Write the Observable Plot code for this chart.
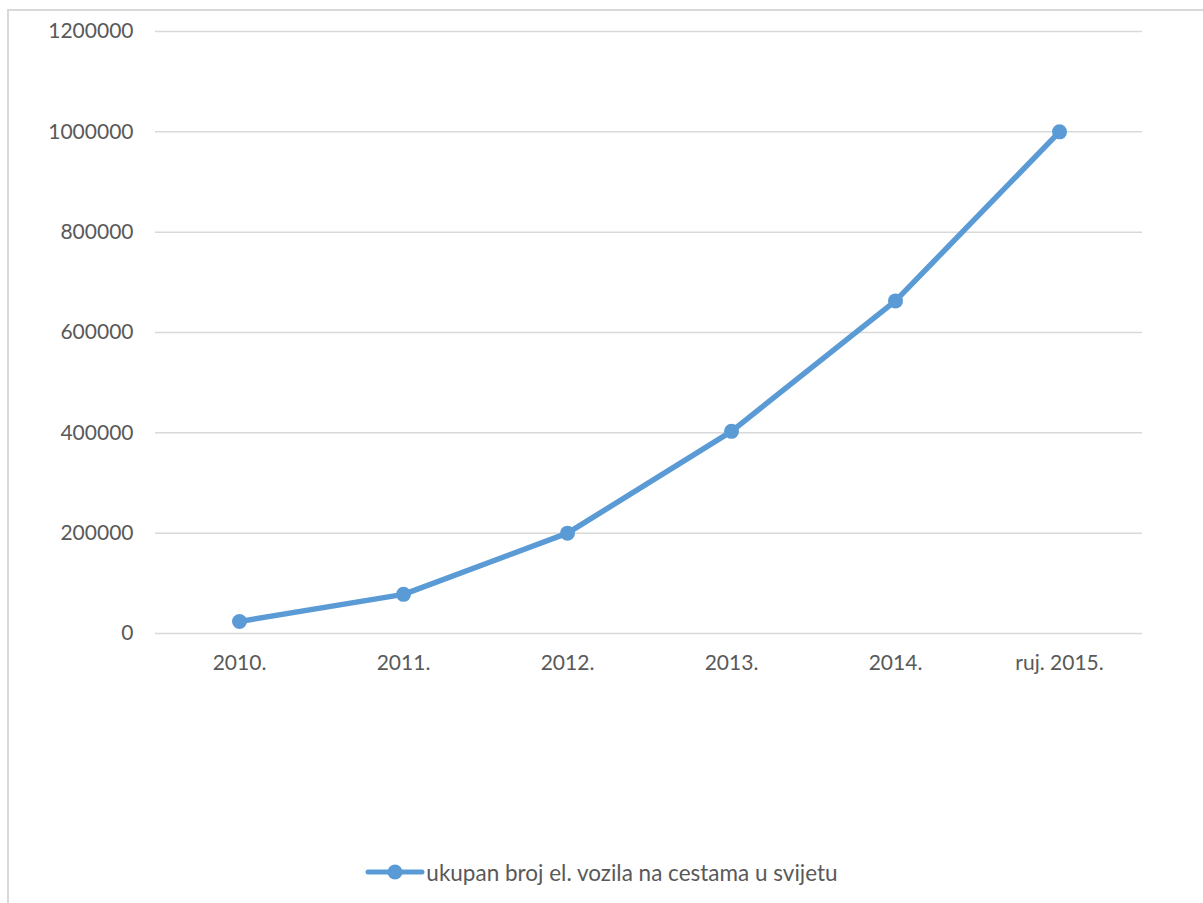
<!DOCTYPE html>
<html>
<head>
<meta charset="utf-8">
<script src="https://cdn.jsdelivr.net/npm/d3@7"></script>
<script src="https://cdn.jsdelivr.net/npm/@observablehq/plot@0.6"></script>
<style>
  html, body { margin: 0; padding: 0; background: #fff; }
  #wrap { position: relative; width: 1203px; height: 903px; overflow: hidden; font-family: Lato, "Open Sans", sans-serif; }
  #frame { position: absolute; left: 7px; top: 9px; width: 1200px; height: 900px; border-top: 2px solid #d9d9d9; border-left: 2px solid #d9d9d9; box-sizing: border-box; pointer-events: none; }
  #chart { position: absolute; left: 0; top: 0; }
  #legend { position: absolute; left: 0; top: 855px; width: 1203px; height: 34px; display: flex; justify-content: center; align-items: center; color: #595959; font-size: 22.5px; }
  #legend .lbl { margin-left: 1px; }
</style>
</head>
<body>
<div id="wrap">
  <div id="chart"></div>
  <div id="frame"></div>
  <div id="legend"></div>
</div>
<script>
const categories = ["2010.", "2011.", "2012.", "2013.", "2014.", "ruj. 2015."];
const values = [24000, 78000, 200000, 403000, 663000, 1000000];
const yTicks = [0, 200000, 400000, 600000, 800000, 1000000, 1200000];
const seriesName = "ukupan broj el. vozila na cestama u svijetu";
const color = "#5b9bd5";

const data = categories.map((c, i) => ({cat: c, value: values[i]}));

const chart = Plot.plot({
  width: 1203,
  height: 845,
  marginLeft: 155,
  marginRight: 61,
  marginTop: 31,
  marginBottom: 212,
  style: { fontFamily: "Lato, 'Open Sans', sans-serif", fontSize: "21px", color: "#595959", background: "transparent" },
  x: { type: "point", domain: categories, padding: 0.5, label: null },
  y: { domain: [0, 1200000], label: null },
  marks: [
    Plot.ruleY(yTicks, { stroke: "#d9d9d9", strokeWidth: 1.5 }),
    Plot.axisY({ ticks: yTicks, tickSize: 0, tickPadding: 22, tickFormat: d => String(d), label: null, fill: "#595959" }),
    Plot.axisX({ tickSize: 0, tickPadding: 22, label: null, fill: "#595959" }),
    Plot.line(data, { x: "cat", y: "value", stroke: color, strokeWidth: 5.5, strokeLinejoin: "round", strokeLinecap: "round" }),
    Plot.dot(data, { x: "cat", y: "value", r: 7.5, fill: color, stroke: "none" })
  ]
});
document.getElementById("chart").appendChild(chart);

const legend = document.getElementById("legend");
legend.innerHTML = `<svg width="60" height="20" style="display:block"><line x1="3" y1="10" x2="57" y2="10" stroke="${color}" stroke-width="5" stroke-linecap="round"/><circle cx="30" cy="10" r="7.5" fill="${color}"/></svg><span class="lbl"></span>`;
legend.querySelector(".lbl").textContent = seriesName;
</script>
</body>
</html>
